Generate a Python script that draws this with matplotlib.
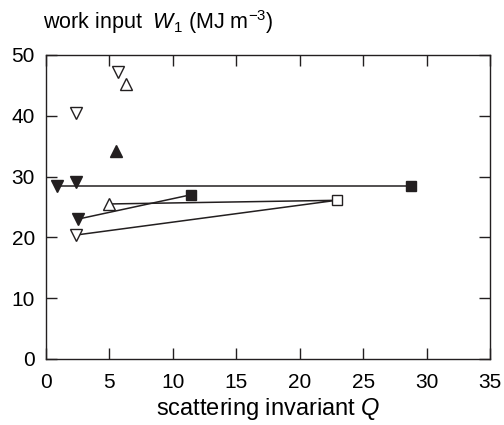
import matplotlib
import matplotlib.pyplot as plt

matplotlib.use('Agg')

plt.rcParams['font.family'] = ['Liberation Sans', 'DejaVu Sans']
plt.rcParams['mathtext.fontset'] = 'custom'
plt.rcParams['mathtext.it'] = 'Liberation Sans:italic'
plt.rcParams['mathtext.rm'] = 'Liberation Sans'

ink = '#231f20'

# connected series
line_a_q = [0.85, 28.8]
line_a_w = [28.5, 28.5]
line_b_q = [2.5, 11.4]
line_b_w = [23.0, 27.0]
line_c_q = [5.0, 22.9, 2.4]
line_c_w = [25.5, 26.1, 20.4]

# single markers
down_open_q = [2.4, 5.7, 2.4]
down_open_w = [40.5, 47.2, 20.4]
up_open_q = [6.3, 5.0]
up_open_w = [45.3, 25.5]
up_fill_q = [5.5]
up_fill_w = [34.2]
down_fill_q = [0.85, 2.4, 2.5]
down_fill_w = [28.5, 29.1, 23.0]
sq_fill_q = [28.8, 11.4]
sq_fill_w = [28.5, 27.0]
sq_open_q = [22.9]
sq_open_w = [26.1]

fig = plt.figure(figsize=(5.04, 4.25), dpi=100)
ax = fig.add_axes([46 / 504, 1 - 359 / 425, 444 / 504, 304 / 425])

for xs, ys in [(line_a_q, line_a_w), (line_b_q, line_b_w), (line_c_q, line_c_w)]:
    ax.plot(xs, ys, color=ink, lw=1.1, zorder=2)

ms = 8.5
ax.plot(down_open_q, down_open_w, 'v', ms=ms, mfc='white', mec=ink, mew=1.0, ls='none', zorder=3)
ax.plot(up_open_q, up_open_w, '^', ms=ms, mfc='white', mec=ink, mew=1.0, ls='none', zorder=3)
ax.plot(up_fill_q, up_fill_w, '^', ms=ms, mfc=ink, mec=ink, ls='none', zorder=3)
ax.plot(down_fill_q, down_fill_w, 'v', ms=ms, mfc=ink, mec=ink, ls='none', zorder=3)
ax.plot(sq_fill_q, sq_fill_w, 's', ms=7, mfc=ink, mec=ink, ls='none', zorder=3)
ax.plot(sq_open_q, sq_open_w, 's', ms=7, mfc='white', mec=ink, mew=1.0, ls='none', zorder=3)

ax.set_xlim(0, 35)
ax.set_ylim(0, 50)
ax.set_xticks(range(0, 36, 5))
ax.set_yticks(range(0, 51, 10))
ax.tick_params(direction='in', length=8, width=1, color=ink, labelsize=15,
               top=True, right=True)
ax.tick_params(axis='y', pad=8)
ax.tick_params(axis='x', pad=10)
for s in ax.spines.values():
    s.set_color(ink)
    s.set_linewidth(1.0)

ax.set_xlabel('scattering invariant $\\mathit{Q}$', fontsize=17, labelpad=3)
fig.text(43 / 504, 1 - 22 / 425, 'work input  $\\mathit{W}_1$ (MJ m$^{-3}$)',
         fontsize=15.5, va='center', ha='left')

fig.savefig('out.png', dpi=100)
